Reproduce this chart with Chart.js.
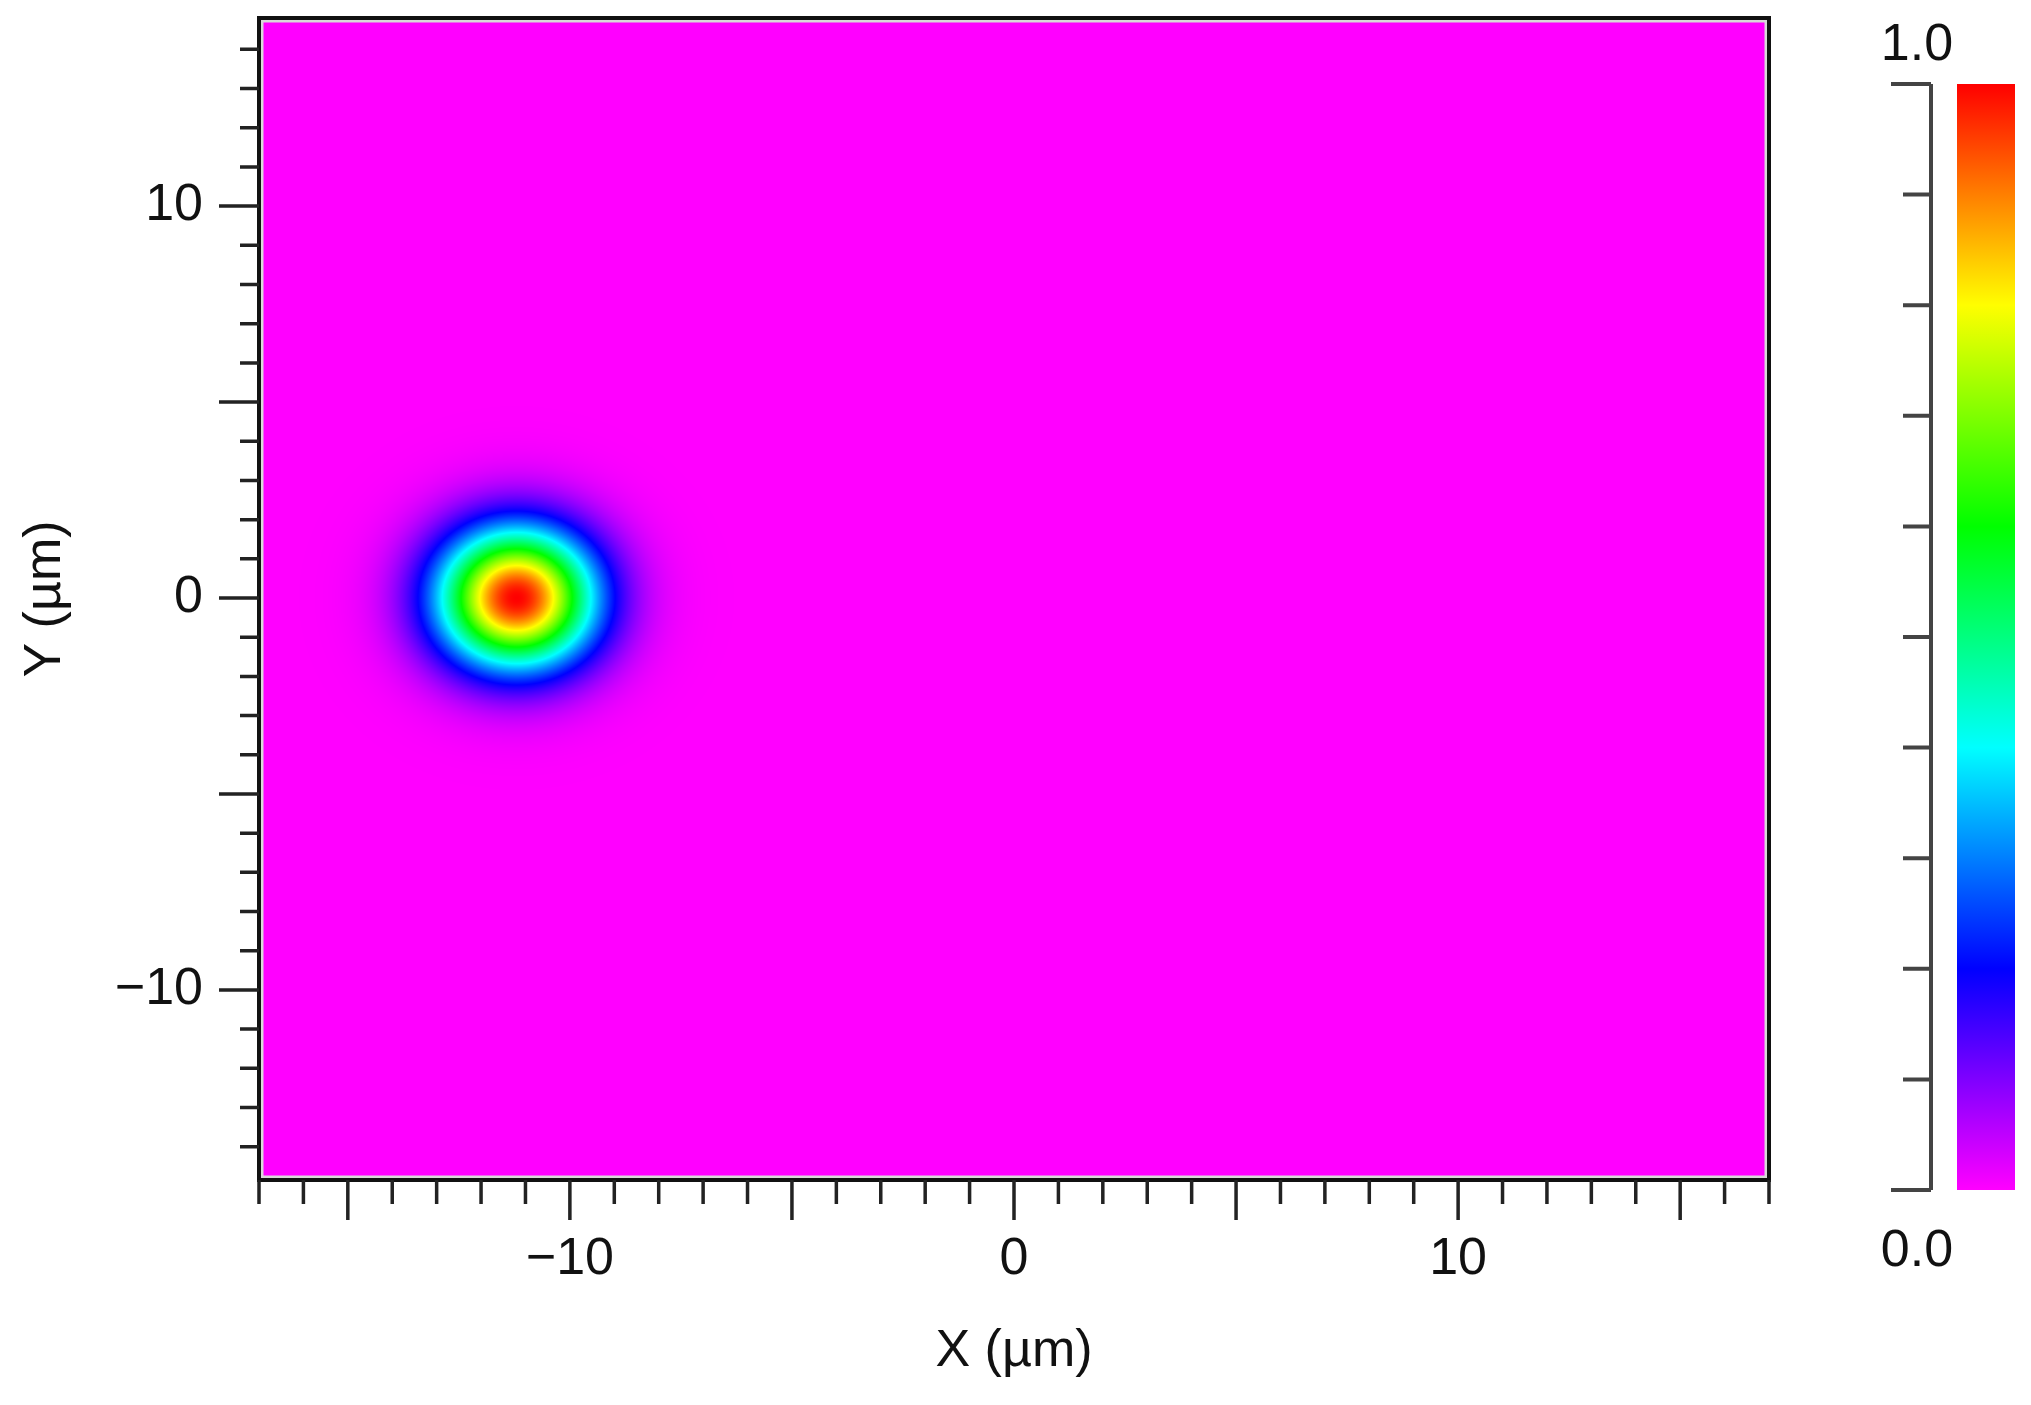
<!DOCTYPE html>
<html>
<head>
<meta charset="utf-8">
<script src="https://cdn.jsdelivr.net/npm/chart.js@4"></script>
<style>
  html, body { margin: 0; padding: 0; background: #fff; }
  #wrap { position: relative; width: 2031px; height: 1405px; }
  canvas { position: absolute; top: 0; }
</style>
</head>
<body>
<div id="wrap">
  <canvas id="fieldChart" style="left:0;width:1850px;height:1405px"></canvas>
  <canvas id="barChart" style="left:1850px;width:181px;height:1405px"></canvas>
</div>
<script>
// Ejes (um)
const xRange = [-17, 17];
const yRange = [-14.85, 14.8];
const xLabels = [-10, 0, 10];
const yLabels = [-10, 0, 10];
// Haz gaussiano: centro, radio y pico
const beamCenter = [-11.2, 0];
const beamWaist = [1.75];
const beamPeak = [1.0];
// Barra de color
const barTicks = [0, 0.1, 0.2, 0.3, 0.4, 0.5, 0.6, 0.7, 0.8, 0.9, 1.0];
const barLabels = ['0.0', '1.0'];

const FONT = 'Liberation Sans, Arial, sans-serif';

// mapa de color arcoíris: magenta -> azul -> cian -> verde -> amarillo -> rojo
function rainbow(v) {
    v = Math.max(0, Math.min(1, v));
    const h = 300 * (1 - v) / 60;
    const i = Math.floor(h), f = h - i;
    let r, g, b;
    switch (i) {
        case 0: r = 1; g = f; b = 0; break;
        case 1: r = 1 - f; g = 1; b = 0; break;
        case 2: r = 0; g = 1; b = f; break;
        case 3: r = 0; g = 1 - f; b = 1; break;
        case 4: r = f; g = 0; b = 1; break;
        default: r = 1; g = 0; b = 1;
    }
    return [r * 255, g * 255, b * 255];
}

function fieldAt(x, y) {
    const dx = x - beamCenter[0], dy = y - beamCenter[1];
    const w = beamWaist[0];
    return beamPeak[0] * Math.exp(-(dx * dx + dy * dy) / (w * w));
}

// Pintar el campo y el marco
const fieldPlugin = {
    id: 'field',
    beforeDatasetsDraw(chart) {
        const { ctx, chartArea: a, scales } = chart;
        const w = Math.round(a.right - a.left), h = Math.round(a.bottom - a.top);
        const img = ctx.createImageData(w, h);
        for (let j = 0; j < h; j++) {
            const yv = scales.y.getValueForPixel(a.top + j + 0.5);
            for (let i = 0; i < w; i++) {
                const xv = scales.x.getValueForPixel(a.left + i + 0.5);
                const c = rainbow(fieldAt(xv, yv));
                const k = (j * w + i) * 4;
                img.data[k] = c[0]; img.data[k + 1] = c[1]; img.data[k + 2] = c[2]; img.data[k + 3] = 255;
            }
        }
        ctx.putImageData(img, Math.round(a.left), Math.round(a.top));
    },
    afterDraw(chart) {
        const { ctx, chartArea: a, scales } = chart;
        ctx.save();
        ctx.strokeStyle = '#d8d8d8';
        ctx.lineWidth = 3;
        ctx.strokeRect(a.left + 3, a.top + 3, a.right - a.left - 6, a.bottom - a.top - 6);
        ctx.strokeStyle = '#111';
        ctx.lineWidth = 4;
        ctx.strokeRect(a.left, a.top, a.right - a.left, a.bottom - a.top);
        ctx.lineWidth = 3.5;
        ctx.strokeStyle = '#222';
        ctx.beginPath();
        scales.x.ticks.forEach(t => {
            const p = scales.x.getPixelForValue(t.value);
            const len = Math.round(t.value) % 5 === 0 ? 40 : 24;
            ctx.moveTo(p, a.bottom); ctx.lineTo(p, a.bottom + len);
        });
        scales.y.ticks.forEach(t => {
            const p = scales.y.getPixelForValue(t.value);
            const len = Math.round(t.value) % 5 === 0 ? 40 : 19;
            ctx.moveTo(a.left, p); ctx.lineTo(a.left - len, p);
        });
        ctx.stroke();
        ctx.restore();
    }
};

// ticks enteros dentro del rango
function intTicks(scale) {
    const t = [];
    for (let v = Math.ceil(scale.min); v <= Math.floor(scale.max); v++) t.push({ value: v });
    scale.ticks = t;
}

function axisTicks(labels) {
    return {
        autoSkip: false,
        maxRotation: 0,
        color: '#111',
        font: { family: FONT, size: 52 },
        callback: v => labels.includes(v) ? (v < 0 ? '\u2212' + Math.abs(v) : String(v)) : ''
    };
}

new Chart(document.getElementById('fieldChart'), {
    type: 'scatter',
    data: { datasets: [{ data: [] }] },
    options: {
        responsive: false,
        animation: false,
        events: [],
        layout: { padding: { top: 18, right: 81, bottom: 0, left: 0 } },
        plugins: { legend: { display: false }, tooltip: { enabled: false } },
        scales: {
            x: {
                type: 'linear', min: xRange[0], max: xRange[1],
                border: { display: false },
                grid: { display: false, drawTicks: false },
                ticks: { ...axisTicks(xLabels), padding: 48 },
                afterBuildTicks: intTicks,
                title: { display: true, text: 'X (\u00b5m)', color: '#111', font: { family: FONT, size: 52 }, padding: { top: 0, bottom: 22 } },
                afterFit: s => { s.height = 225; s.paddingLeft = 0; s.paddingRight = 0; }
            },
            y: {
                type: 'linear', min: yRange[0], max: yRange[1],
                border: { display: false },
                grid: { display: false, drawTicks: false },
                ticks: { ...axisTicks(yLabels), padding: 56 },
                afterBuildTicks: intTicks,
                title: { display: true, text: 'Y (\u00b5m)', color: '#111', font: { family: FONT, size: 52 }, padding: { top: 14, bottom: 0 } },
                afterFit: s => { s.width = 259; s.paddingTop = 0; s.paddingBottom = 0; }
            }
        }
    },
    plugins: [fieldPlugin]
});

// Barra de color
const barPlugin = {
    id: 'colorbar',
    beforeDatasetsDraw(chart) {
        const { ctx, chartArea: a, scales } = chart;
        const grad = ctx.createLinearGradient(0, a.bottom, 0, a.top);
        for (let s = 0; s <= 30; s++) {
            const c = rainbow(s / 30);
            grad.addColorStop(s / 30, `rgb(${c[0] | 0},${c[1] | 0},${c[2] | 0})`);
        }
        ctx.fillStyle = grad;
        ctx.fillRect(a.left, a.top, a.right - a.left, a.bottom - a.top);
        const axisX = a.left - 26;
        ctx.save();
        ctx.strokeStyle = '#444';
        ctx.lineWidth = 4;
        ctx.beginPath();
        ctx.moveTo(axisX, scales.y.getPixelForValue(1)); ctx.lineTo(axisX, scales.y.getPixelForValue(0));
        barTicks.forEach(v => {
            const p = scales.y.getPixelForValue(v);
            const len = (v === 0 || v === 1) ? 40 : 28;
            ctx.moveTo(axisX, p); ctx.lineTo(axisX - len, p);
        });
        ctx.stroke();
        ctx.fillStyle = '#111';
        ctx.font = '52px ' + FONT;
        ctx.textAlign = 'center';
        ctx.textBaseline = 'alphabetic';
        ctx.fillText(barLabels[1], axisX - 14, scales.y.getPixelForValue(1) - 24);
        ctx.fillText(barLabels[0], axisX - 14, scales.y.getPixelForValue(0) + 76);
        ctx.restore();
    }
};

new Chart(document.getElementById('barChart'), {
    type: 'scatter',
    data: { datasets: [{ data: [] }] },
    options: {
        responsive: false,
        animation: false,
        events: [],
        layout: { padding: { top: 84, right: 16, bottom: 215, left: 107 } },
        plugins: { legend: { display: false }, tooltip: { enabled: false } },
        scales: {
            x: { display: false, min: 0, max: 1 },
            y: { display: false, min: 0, max: 1 }
        }
    },
    plugins: [barPlugin]
});
</script>
</body>
</html>
